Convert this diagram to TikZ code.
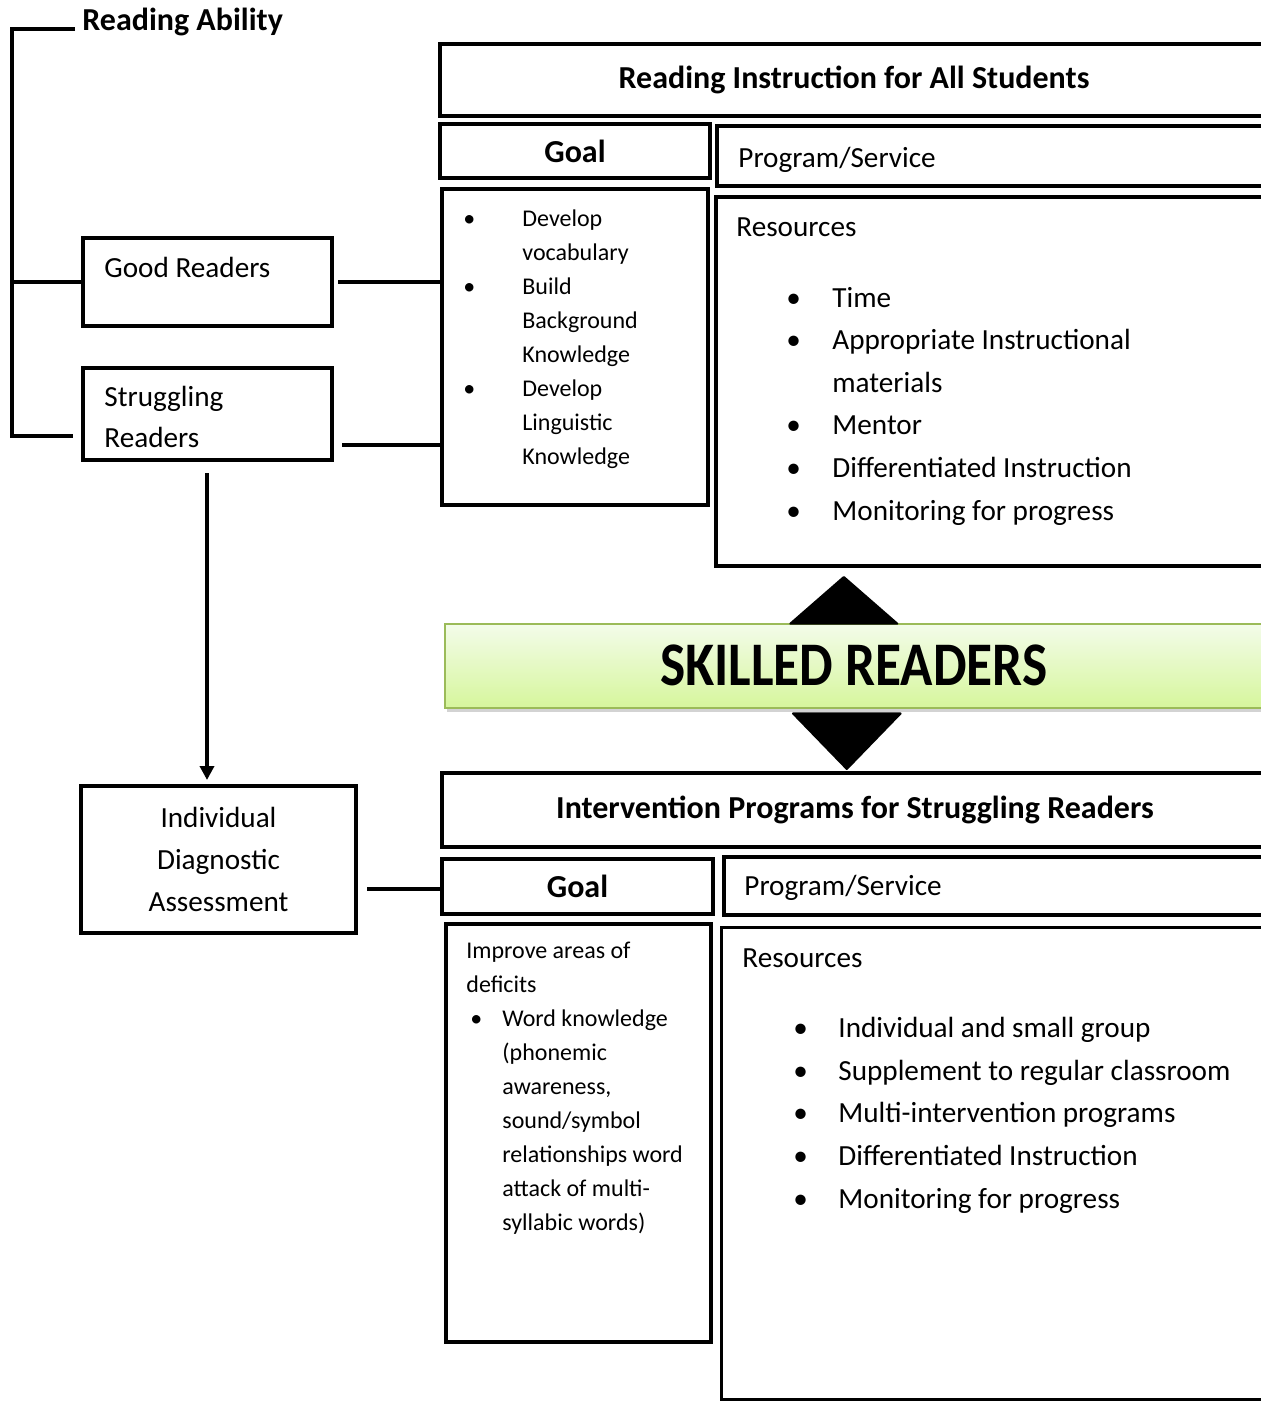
\documentclass[tikz,border=0pt]{standalone}
\usepackage{fontspec}
\setmainfont{Carlito}
\usetikzlibrary{positioning,arrows.meta,shadows}
\definecolor{skilltop}{RGB}{243,252,234}
\definecolor{skillbottom}{RGB}{214,246,156}
\definecolor{skillborder}{RGB}{155,187,89}
\newcommand{\bul}[1]{\makebox[#1][l]{\textbullet}}

\begin{document}
\begin{tikzpicture}[x=0.5pt, y=-0.5pt,
  box/.style={draw, line width=2pt, anchor=north west, inner sep=0pt},
  conn/.style={line width=2pt},
  head/.style={font=\fontsize{16}{19}\selectfont\bfseries},
  txt/.style={inner sep=0pt, anchor=base west, align=left, font=\fontsize{14.6}{20.5}\selectfont},
  small/.style={txt, font=\fontsize{12}{17}\selectfont},
  reslist/.style={txt, font=\fontsize{14.6}{21.3}\selectfont},
  bigtip/.style={line width=1pt, -{Triangle[length=#1, width=56pt, round]}}]

\useasboundingbox (0,0) rectangle (1261,1401);
\clip (0,0) rectangle (1261,1401);

% LEFT SIDE

\node[head, inner sep=0pt, anchor=base west] (ability) at (82,31) {Reading Ability};

\node[box, minimum width=124.5pt, minimum height=44pt] (good) at (81,236) {};
\node[txt] (goodtxt) at (104,278) {Good Readers};

\node[box, minimum width=124.5pt, minimum height=46pt] (struggling) at (81,366) {};
\node[txt] (strugtxt) at (104,447) {Struggling\\Readers};

\node[box, minimum width=137.5pt, minimum height=73.5pt, align=center, font=\fontsize{14.6}{21}\selectfont] (diag) at (79,784) {Individual\\Diagnostic\\Assessment};

% READING INSTRUCTION FOR ALL STUDENTS

\node[box, minimum width=414pt, minimum height=36pt, head] (allstud) at (438,42) {\raisebox{1.5pt}{Reading Instruction for All Students}};

\node[box, minimum width=135pt, minimum height=27pt, head] (goal1) at (438,122) {Goal};

\node[box, minimum width=275.5pt, minimum height=30pt] (prog1) at (715,124) {};
\node[txt] (prog1txt) at (738,168) {Program/Service};

\node[box, minimum width=133pt, minimum height=158pt] (glist1) at (440,187) {};
\node[small] (glist1txt) at (463,464) {\bul{29.5pt}Develop\\\hspace*{29.5pt}vocabulary\\\bul{29.5pt}Build\\\hspace*{29.5pt}Background\\\hspace*{29.5pt}Knowledge\\\bul{29.5pt}Develop\\\hspace*{29.5pt}Linguistic\\\hspace*{29.5pt}Knowledge};

\node[box, minimum width=276pt, minimum height=184.5pt] (res1) at (714,195) {};
\node[txt] (res1head) at (736,237) {Resources};
\node[reslist] (res1list) at (786,520) {\bul{23pt}Time\\\bul{23pt}Appropriate Instructional\\\hspace*{23pt}materials\\\bul{23pt}Mentor\\\bul{23pt}Differentiated Instruction\\\bul{23pt}Monitoring for progress};

% SKILLED READERS

\node[box, minimum width=409pt, minimum height=42pt, draw=skillborder, line width=0.8pt, top color=skilltop, bottom color=skillbottom, drop shadow={shadow xshift=1pt, shadow yshift=-2pt, opacity=0.35}, font=\fontsize{31}{36}\selectfont\bfseries] (skilled) at (444,623) {\scalebox{0.86}[1]{SKILLED READERS}};

% INTERVENTION PROGRAMS

\node[box, minimum width=413pt, minimum height=37pt, head] (interv) at (440,771) {\raisebox{1.5pt}{Intervention Programs for Struggling Readers}};

\node[box, minimum width=135.5pt, minimum height=27.5pt, head] (goal2) at (440,857) {Goal};

\node[box, minimum width=272pt, minimum height=29pt] (prog2) at (722,855) {};
\node[txt] (prog2txt) at (744,895) {Program/Service};

\node[box, minimum width=132.5pt, minimum height=209pt] (glist2) at (444,922) {};
\node[small] (glist2txt) at (466,1230) {Improve areas of\\deficits\\\hspace*{2pt}\bul{16pt}Word knowledge\\\hspace*{18pt}(phonemic\\\hspace*{18pt}awareness,\\\hspace*{18pt}sound/symbol\\\hspace*{18pt}relationships word\\\hspace*{18pt}attack of multi-\\\hspace*{18pt}syllabic words)};

\node[box, line width=1.5pt, minimum width=273pt, minimum height=236pt] (res2) at (720,926) {};
\node[txt] (res2head) at (742,967) {Resources};
\node[reslist] (res2list) at (793,1208) {\bul{22.5pt}Individual and small group\\\bul{22.5pt}Supplement to regular classroom\\\bul{22.5pt}Multi-intervention programs\\\bul{22.5pt}Differentiated Instruction\\\bul{22.5pt}Monitoring for progress};

% CONNECTORS

\coordinate (brk) at (12,436);
\draw[conn] ([xshift=-3.5pt,yshift=1pt]ability.base west) -| (brk) -- ++(30.5pt,0);
\draw[conn] (brk |- good.west) -- (good.west);

\draw[conn] ([xshift=2pt]good.east) -- (good.east -| glist1.west);
\draw[conn] ([xshift=4pt,yshift=-15.5pt]struggling.east) -- ([yshift=-15.5pt]struggling.east -| glist1.west);
\draw[conn] ([xshift=4.5pt,yshift=-14.75pt]diag.east) -- ([yshift=-14.75pt]diag.east -| goal2.west);

\draw[conn, shorten <=5.5pt, shorten >=2pt, -{Triangle[length=7pt, width=7pt]}] ([xshift=-0.25pt]struggling.south) -- ([xshift=-0.25pt]struggling.south |- diag.north);

\draw[bigtip=24.5pt, shorten >=4pt] ([xshift=-5pt]skilled.north) -- ([xshift=-5pt]skilled.north |- res1.south);
\draw[bigtip=29pt, shorten <=2.5pt, shorten >=0.5pt] ([xshift=-3.5pt]skilled.south) -- ([xshift=-3.5pt]skilled.south |- interv.north);

\end{tikzpicture}
\end{document}
